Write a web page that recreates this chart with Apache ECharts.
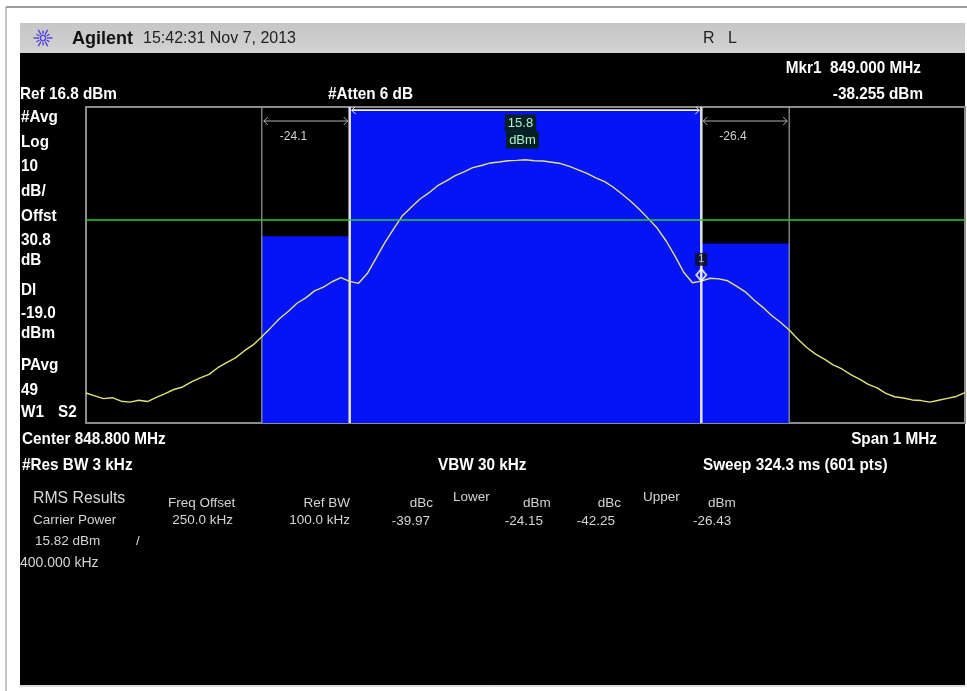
<!DOCTYPE html>
<html>
<head>
<meta charset="utf-8">
<script src="https://cdn.jsdelivr.net/npm/echarts@6/dist/echarts.min.js"></script>
<style>
html,body{margin:0;padding:0;background:#fff;}
#chart{width:967px;height:691px;}
</style>
</head>
<body>
<div id="chart"></div>
<script>
// ---- instrument settings ----
const REF_LEVEL = 16.8;          // dBm
const DB_PER_DIV = 10;
const DIVS = 10;
const CENTER_FREQ = 848.8;       // MHz
const SPAN = 1;                  // MHz
const DISPLAY_LINE = -19.0;      // dBm
const OFFSET_DB = 30.8;
const ATTEN_DB = 6;

// ---- trace (601-pt sweep, read every 10 kHz) ----
const TRACE_START = 848.30;
const TRACE_STEP = 0.01;
const tracePower = [
-73.7,-74.6,-75.5,-75.2,-76.3,-76.6,-76.0,-76.4,-75.1,-73.9,
-72.6,-71.8,-70.2,-68.9,-67.8,-65.7,-64.1,-62.6,-60.4,-58.5,
-55.9,-53.1,-50.2,-47.9,-45.3,-43.6,-41.4,-40.2,-38.5,-37.2,
-38.4,-39.0,-35.9,-31.0,-26.1,-21.8,-17.6,-14.9,-12.3,-10.4,
-8.1,-6.6,-4.9,-3.7,-2.4,-1.7,-0.9,-0.6,-0.2,-0.1,
0.1,-0.2,-0.3,-0.7,-1.1,-2.0,-3.1,-4.2,-5.6,-6.8,
-8.6,-10.8,-13.1,-15.7,-18.6,-21.6,-25.6,-30.3,-35.5,-38.8,
-38.3,-37.4,-37.6,-38.2,-39.9,-41.7,-44.3,-46.6,-49.2,-51.3,
-53.8,-56.7,-59.3,-61.4,-63.0,-64.8,-66.1,-67.9,-69.3,-71.0,
-72.1,-73.8,-74.9,-75.3,-75.9,-76.1,-76.6,-76.0,-75.4,-74.8,
-73.6];

// ---- channel power bands (lower adj, upper adj, carrier) ----
const bandLo = [848.5, 849.0, 848.6];
const bandHi = [848.6, 849.1, 849.0];
const bandPower = [-24.1, -26.4, 15.8];

// ---- marker ----
const markerFreq = [849.000];
const markerPower = [-38.255];

// ---- RMS results ----
const carrierPower = 15.82;
const carrierBW = 400.000;   // kHz
const freqOffset = 250.0;    // kHz
const refBW = 100.0;         // kHz
const lowerResult = [-39.97, -24.15];  // dBc, dBm
const upperResult = [-42.25, -26.43];  // dBc, dBm

const Y_MAX = REF_LEVEL;
const Y_MIN = REF_LEVEL - DB_PER_DIV * DIVS;
const X_MIN = CENTER_FREQ - SPAN / 2;
const X_MAX = CENTER_FREQ + SPAN / 2;

const traceData = tracePower.map((p, i) => [TRACE_START + i * TRACE_STEP, p]);
const bandData = bandLo.map((lo, i) => [lo, bandHi[i], bandPower[i]]);
const markerData = markerFreq.map((f, i) => [f, markerPower[i]]);

const BLUE = '#0414f4';
const FONT = '"Liberation Sans", Arial, sans-serif';
const BOLD = 'bold 17px ' + FONT;
const SMALL = '13.5px ' + FONT;

function renderBand(params, api) {
  const lo = api.value(0), hi = api.value(1), p = api.value(2);
  const cs = params.coordSys;
  const a = api.coord([lo, p]);
  const b = api.coord([hi, Y_MIN]);
  const top = cs.y, bot = cs.y + cs.height;
  const main = lo < CENTER_FREQ && hi > CENTER_FREQ;
  const edge = main ? {stroke: '#e4e4e4', lineWidth: 2.5} : {stroke: '#9c9c9c', lineWidth: 1.2};
  const ay = main ? a[1] : top + 14;
  const ac = main ? '#f2f2f2' : '#b0b0b0';
  const ah = 4;
  const l = a[0] + 2, r = b[0] - 2;
  const children = [
    {type: 'rect', shape: {x: a[0], y: a[1], width: b[0] - a[0], height: b[1] - a[1]}, style: {fill: BLUE}},
    {type: 'line', shape: {x1: a[0], y1: top, x2: a[0], y2: bot}, style: edge},
    {type: 'line', shape: {x1: b[0], y1: top, x2: b[0], y2: bot}, style: edge},
    {type: 'line', shape: {x1: l, y1: ay, x2: r, y2: ay}, style: {stroke: ac, lineWidth: main ? 1.6 : 1}},
    {type: 'polyline', shape: {points: [[l + ah, ay - ah], [l, ay], [l + ah, ay + ah]]}, style: {stroke: ac, fill: null, lineWidth: 1}},
    {type: 'polyline', shape: {points: [[r - ah, ay - ah], [r, ay], [r - ah, ay + ah]]}, style: {stroke: ac, fill: null, lineWidth: 1}}
  ];
  if (main) {
    const cx = (a[0] + b[0]) / 2 - 5;
    children.push({type: 'text', x: cx, y: top + 16, style: {text: p.toFixed(1), fill: '#a8f2d6', font: '13px ' + FONT,
      align: 'center', verticalAlign: 'middle', textAlign: 'center', textVerticalAlign: 'middle',
      backgroundColor: '#062020', padding: [2, 3]}});
    children.push({type: 'text', x: cx + 2, y: top + 33, style: {text: 'dBm', fill: '#a8f2d6', font: '13px ' + FONT,
      align: 'center', verticalAlign: 'middle', textAlign: 'center', textVerticalAlign: 'middle',
      backgroundColor: '#062020', padding: [2, 3]}});
  } else {
    children.push({type: 'text', x: a[0] + 18, y: top + 30, style: {text: p.toFixed(1), fill: '#cfcfcf', font: '12px ' + FONT,
      align: 'left', verticalAlign: 'middle', textAlign: 'left', textVerticalAlign: 'middle'}});
  }
  return {type: 'group', children};
}

function T(text, x, y, o) {
  o = o || {};
  const al = o.a || 'left';
  return {type: 'text', x: x, y: y, scaleX: o.sx || 1, z: 20, silent: true,
    style: {text: text, fill: o.c || '#ffffff', font: o.f || BOLD,
      textAlign: al, textVerticalAlign: 'middle', align: al, verticalAlign: 'middle'}};
}

const graphics = [
  {type: 'rect', z: -10, shape: {x: 0, y: 0, width: 967, height: 691}, style: {fill: '#ffffff'}},
  {type: 'line', z: -9, shape: {x1: 6, y1: 7, x2: 967, y2: 7}, style: {stroke: '#3a3a3a', lineWidth: 1.2}},
  {type: 'line', z: -9, shape: {x1: 6, y1: 7, x2: 6, y2: 691}, style: {stroke: '#8a8a8a', lineWidth: 1}},
  {type: 'rect', z: -9, shape: {x: 20, y: 23, width: 945, height: 30},
    style: {fill: {type: 'linear', x: 0, y: 0, x2: 0, y2: 1, colorStops: [{offset: 0, color: '#c6c6c6'}, {offset: 1, color: '#d2d2d2'}]}}},
  {type: 'rect', z: -9, shape: {x: 20, y: 53, width: 945, height: 632}, style: {fill: '#000000'}},
  {type: 'line', z: -9, shape: {x1: 20, y1: 686, x2: 965, y2: 686}, style: {stroke: '#b8b8b8', lineWidth: 1}}
];
// Agilent spark logo
(function () {
  const cx = 43, cy = 38;
  for (let k = 0; k < 12; k++) {
    const ang = k * Math.PI / 6;
    const r1 = 4, r2 = (k % 2 === 0) ? 9.5 : 7.5;
    graphics.push({type: 'line', z: 5, shape: {x1: cx + r1 * Math.cos(ang), y1: cy + r1 * Math.sin(ang), x2: cx + r2 * Math.cos(ang), y2: cy + r2 * Math.sin(ang)},
      style: {stroke: '#5040d8', lineWidth: 1.4}});
  }
  graphics.push({type: 'circle', z: 5, shape: {cx: cx, cy: cy, r: 2.6}, style: {fill: null, stroke: '#5040d8', lineWidth: 1.4}});
})();

const SX = 0.9;
const texts = [
  T('Agilent', 72, 39, {f: 'bold 18px ' + FONT, c: '#111111'}),
  T('15:42:31 Nov 7, 2013', 143, 39, {f: '16px ' + FONT, c: '#222222'}),
  T('R', 703, 39, {f: '16px ' + FONT, c: '#222222'}),
  T('L', 728, 39, {f: '16px ' + FONT, c: '#222222'}),
  T('Mkr1  ' + markerFreq[0].toFixed(3) + ' MHz', 921, 68, {a: 'right', sx: SX}),
  T('Ref ' + REF_LEVEL.toFixed(1) + ' dBm', 20, 94, {sx: SX}),
  T('#Atten ' + ATTEN_DB + ' dB', 328, 94, {sx: SX}),
  T(markerPower[0].toFixed(3) + ' dBm', 923, 94, {a: 'right', sx: SX}),
  T('#Avg', 21, 117, {sx: SX}),
  T('Log', 21, 142, {sx: SX}),
  T(String(DB_PER_DIV), 21, 166, {sx: SX}),
  T('dB/', 21, 191, {sx: SX}),
  T('Offst', 21, 216, {sx: SX}),
  T(OFFSET_DB.toFixed(1), 21, 240, {sx: SX}),
  T('dB', 21, 260, {sx: SX}),
  T('Dl', 21, 290, {sx: SX}),
  T(DISPLAY_LINE.toFixed(1), 21, 313, {sx: SX}),
  T('dBm', 21, 333, {sx: SX}),
  T('PAvg', 21, 365, {sx: SX}),
  T('49', 21, 390, {sx: SX}),
  T('W1', 21, 412, {sx: SX}),
  T('S2', 58, 412, {sx: SX}),
  T('Center ' + CENTER_FREQ.toFixed(3) + ' MHz', 22, 439, {sx: SX}),
  T('Span ' + SPAN + ' MHz', 937, 439, {a: 'right', sx: SX}),
  T('#Res BW 3 kHz', 22, 465, {sx: SX}),
  T('VBW 30 kHz', 438, 465, {sx: SX}),
  T('Sweep 324.3 ms (601 pts)', 703, 465, {sx: SX}),
  T('RMS Results', 33, 498, {f: '17px ' + FONT, c: '#d8d8d8', sx: 0.93}),
  T('Freq Offset', 168, 503, {f: SMALL, c: '#d4d4d4'}),
  T('Ref BW', 350, 503, {f: SMALL, c: '#d4d4d4', a: 'right'}),
  T('dBc', 433, 503, {f: SMALL, c: '#d4d4d4', a: 'right'}),
  T('Lower', 453, 497, {f: SMALL, c: '#d4d4d4'}),
  T('dBm', 523, 503, {f: SMALL, c: '#d4d4d4'}),
  T('dBc', 621, 503, {f: SMALL, c: '#d4d4d4', a: 'right'}),
  T('Upper', 643, 497, {f: SMALL, c: '#d4d4d4'}),
  T('dBm', 708, 503, {f: SMALL, c: '#d4d4d4'}),
  T('Carrier Power', 33, 520, {f: SMALL, c: '#d4d4d4'}),
  T(freqOffset.toFixed(1) + ' kHz', 233, 520, {f: SMALL, c: '#d4d4d4', a: 'right'}),
  T(refBW.toFixed(1) + ' kHz', 350, 520, {f: SMALL, c: '#d4d4d4', a: 'right'}),
  T(lowerResult[0].toFixed(2), 430, 521, {f: SMALL, c: '#d4d4d4', a: 'right'}),
  T(lowerResult[1].toFixed(2), 543, 521, {f: SMALL, c: '#d4d4d4', a: 'right'}),
  T(upperResult[0].toFixed(2), 615, 521, {f: SMALL, c: '#d4d4d4', a: 'right'}),
  T(upperResult[1].toFixed(2), 693, 521, {f: SMALL, c: '#d4d4d4'}),
  T(carrierPower.toFixed(2) + ' dBm', 35, 541, {f: SMALL, c: '#d4d4d4'}),
  T('/', 136, 541, {f: SMALL, c: '#d4d4d4'}),
  T(carrierBW.toFixed(3) + ' kHz', 20, 563, {f: '14px ' + FONT, c: '#d4d4d4'})
];

const chart = echarts.init(document.getElementById('chart'), null, {renderer: 'canvas'});
chart.setOption({
  animation: false,
  backgroundColor: '#ffffff',
  graphic: {elements: graphics.concat(texts)},
  grid: {left: 86, right: 2, top: 107, bottom: 268, show: true, backgroundColor: '#000000', borderColor: '#8c8c8c', borderWidth: 2, containLabel: false},
  xAxis: {type: 'value', min: X_MIN, max: X_MAX, axisLine: {show: false}, axisTick: {show: false}, axisLabel: {show: false}, splitLine: {show: false}},
  yAxis: {type: 'value', min: Y_MIN, max: Y_MAX, axisLine: {show: false}, axisTick: {show: false}, axisLabel: {show: false}, splitLine: {show: false}},
  series: [
    {type: 'custom', name: 'Channel power', renderItem: renderBand, data: bandData, clip: true, silent: true, z: 2},
    {type: 'line', name: 'Trace', data: traceData, showSymbol: false, symbol: 'none', silent: true, z: 3,
      lineStyle: {color: '#e2e276', width: 1.4},
      markLine: {silent: true, symbol: 'none', label: {show: false},
        lineStyle: {color: '#2ccc2c', width: 1.6, type: 'solid'},
        data: [{yAxis: DISPLAY_LINE}]}},
    {type: 'scatter', name: 'Marker', data: markerData, symbol: 'diamond', symbolSize: [10, 12], symbolOffset: [0, -6], z: 4, silent: true,
      itemStyle: {color: 'rgba(0,0,0,0)', borderColor: '#ffffff', borderWidth: 2},
      label: {show: true, position: 'top', formatter: '1', color: '#e8e8e8', fontSize: 11, backgroundColor: '#101010', padding: [1, 3], distance: 2}}
  ]
});
</script>
</body>
</html>
